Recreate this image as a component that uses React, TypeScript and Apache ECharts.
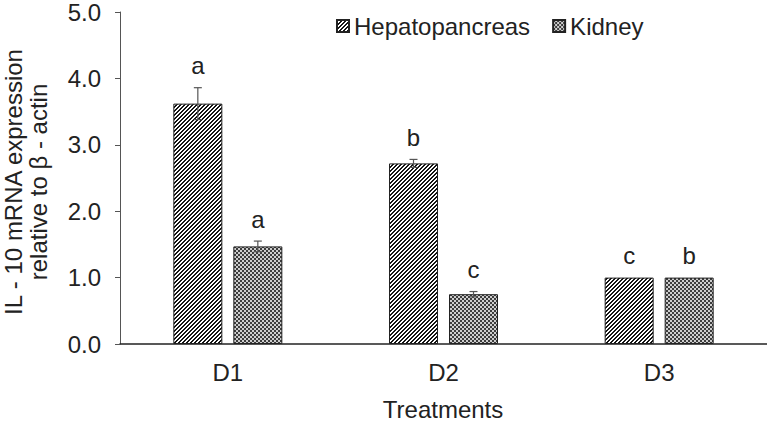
import React, { useEffect, useRef } from "react";
import * as echarts from "echarts";

const categories = ["D1", "D2", "D3"];
const seriesNames = ["Hepatopancreas", "Kidney"];
const hepatoValues = [3.62, 2.72, 1.0];
const hepatoErrors = [0.24, 0.06, 0];
const kidneyValues = [1.47, 0.75, 1.0];
const kidneyErrors = [0.08, 0.04, 0];
const hepatoLetters = ["a", "b", "c"];
const kidneyLetters = ["a", "c", "b"];
const xTitle = "Treatments";
const yTitleLines = ["IL - 10 mRNA expression", "relative to β - actin"];

const FONT = '"Liberation Sans", Arial, sans-serif';
const FS = 24;
const TEXT = "#222";

function makeTile(size: number, fn: (x: number, y: number) => [number, number, number]): string {
  const c = document.createElement("canvas");
  c.width = size;
  c.height = size;
  const ctx = c.getContext("2d")!;
  const img = ctx.createImageData(size, size);
  for (let y = 0; y < size; y++) {
    for (let x = 0; x < size; x++) {
      const [r, g, b] = fn(x, y);
      const k = (y * size + x) * 4;
      img.data[k] = r;
      img.data[k + 1] = g;
      img.data[k + 2] = b;
      img.data[k + 3] = 255;
    }
  }
  ctx.putImageData(img, 0, 0);
  return c.toDataURL();
}

export default function App() {
  const ref = useRef<HTMLDivElement>(null);
  useEffect(() => {
    if (!ref.current) return;
    const chart = echarts.init(ref.current, null, { renderer: "svg" });
    const stripe = makeTile(4, (x, y) => ((x + y) % 4 < 2 ? [20, 20, 20] : [255, 255, 255]));
    const checker = makeTile(4, (x, y) =>
      (Math.floor(x / 2) + Math.floor(y / 2)) % 2 === 0 ? [60, 60, 60] : [205, 205, 205]
    );
    const stripePattern: any = { image: stripe, repeat: "repeat", imageWidth: 4, imageHeight: 4 };
    const checkerPattern: any = { image: checker, repeat: "repeat", imageWidth: 4, imageHeight: 4 };

    const barWidth = 49;
    const gapPx = 11;
    const half = (barWidth + gapPx) / 2;

    const errSeries = (vals: number[], errs: number[], letters: string[], offset: number, name: string) => ({
      type: "custom",
      name,
      z: 5,
      data: vals.map((v, i) => [i, v, errs[i]]),
      encode: { x: 0, y: 1 },
      renderItem: (params: any, api: any) => {
        const i = api.value(0);
        const v = api.value(1);
        const e = api.value(2);
        const base = api.coord([i, v]);
        const x = base[0] + offset;
        const top = api.coord([i, v + e])[1];
        const bot = api.coord([i, v - e])[1];
        const children: any[] = [];
        const ls = { stroke: "#555", lineWidth: 1.2 };
        if (e > 0) {
          children.push({ type: "line", shape: { x1: x, y1: top, x2: x, y2: bot }, style: ls });
          children.push({ type: "line", shape: { x1: x - 4, y1: top, x2: x + 4, y2: top }, style: ls });
          children.push({ type: "line", shape: { x1: x - 4, y1: bot, x2: x + 4, y2: bot }, style: ls });
        }
        const ly = (e > 0 ? top : base[1]) - 22;
        children.push({
          type: "text",
          x,
          y: ly,
          style: {
            text: letters[params.dataIndex],
            fill: TEXT,
            font: `${FS}px ${FONT}`,
            align: "center",
            verticalAlign: "middle",
            textAlign: "center",
            textVerticalAlign: "middle",
          },
        });
        return { type: "group", children };
      },
    });

    chart.setOption({
      animation: false,
      grid: { left: 120, right: 0, top: 11, bottom: 79, containLabel: false },
      legend: {
        data: seriesNames,
        left: 336,
        top: 14,
        padding: 0,
        itemWidth: 12,
        itemHeight: 12,
        itemGap: 22,
        icon: "rect",
        textStyle: { fontSize: FS, fontFamily: FONT, color: TEXT },
      },
      xAxis: {
        type: "category",
        data: categories,
        axisTick: { show: false },
        axisLine: { lineStyle: { color: "#222", width: 1.5 } },
        axisLabel: { fontSize: FS, fontFamily: FONT, color: TEXT, margin: 16 },
      },
      yAxis: {
        type: "value",
        min: 0,
        max: 5,
        interval: 1,
        splitLine: { show: false },
        axisLine: { show: true, lineStyle: { color: "#555", width: 1 } },
        axisTick: { show: true, length: 5, lineStyle: { color: "#555" } },
        axisLabel: {
          fontSize: FS,
          fontFamily: FONT,
          color: TEXT,
          margin: 19,
          formatter: (v: number) => v.toFixed(1),
        },
      },
      series: [
        {
          type: "bar",
          name: seriesNames[0],
          data: hepatoValues,
          barWidth,
          barGap: `${(gapPx / barWidth) * 100}%`,
          itemStyle: { color: stripePattern, borderColor: "#222", borderWidth: 1 },
        },
        {
          type: "bar",
          name: seriesNames[1],
          data: kidneyValues,
          barWidth,
          barGap: `${(gapPx / barWidth) * 100}%`,
          itemStyle: { color: checkerPattern, borderColor: "#222", borderWidth: 1 },
        },
        errSeries(hepatoValues, hepatoErrors, hepatoLetters, -half, "errH"),
        errSeries(kidneyValues, kidneyErrors, kidneyLetters, half, "errK"),
      ],
      graphic: [
        {
          type: "text",
          x: 443,
          y: 409,
          style: {
            text: xTitle,
            font: `${FS}px ${FONT}`,
            fill: TEXT,
            align: "center",
            verticalAlign: "middle",
            textAlign: "center",
            textVerticalAlign: "middle",
          },
        },
        ...yTitleLines.map((t, k) => ({
          type: "text",
          x: 13 + k * 25,
          y: 182,
          rotation: Math.PI / 2,
          style: {
            text: t,
            font: `${FS}px ${FONT}`,
            fill: TEXT,
            align: "center",
            verticalAlign: "middle",
            textAlign: "center",
            textVerticalAlign: "middle",
          },
        })),
      ],
    });
    return () => chart.dispose();
  }, []);
  return <div ref={ref} style={{ width: 767, height: 423, position: "absolute", left: 0, top: 0 }} />;
}
